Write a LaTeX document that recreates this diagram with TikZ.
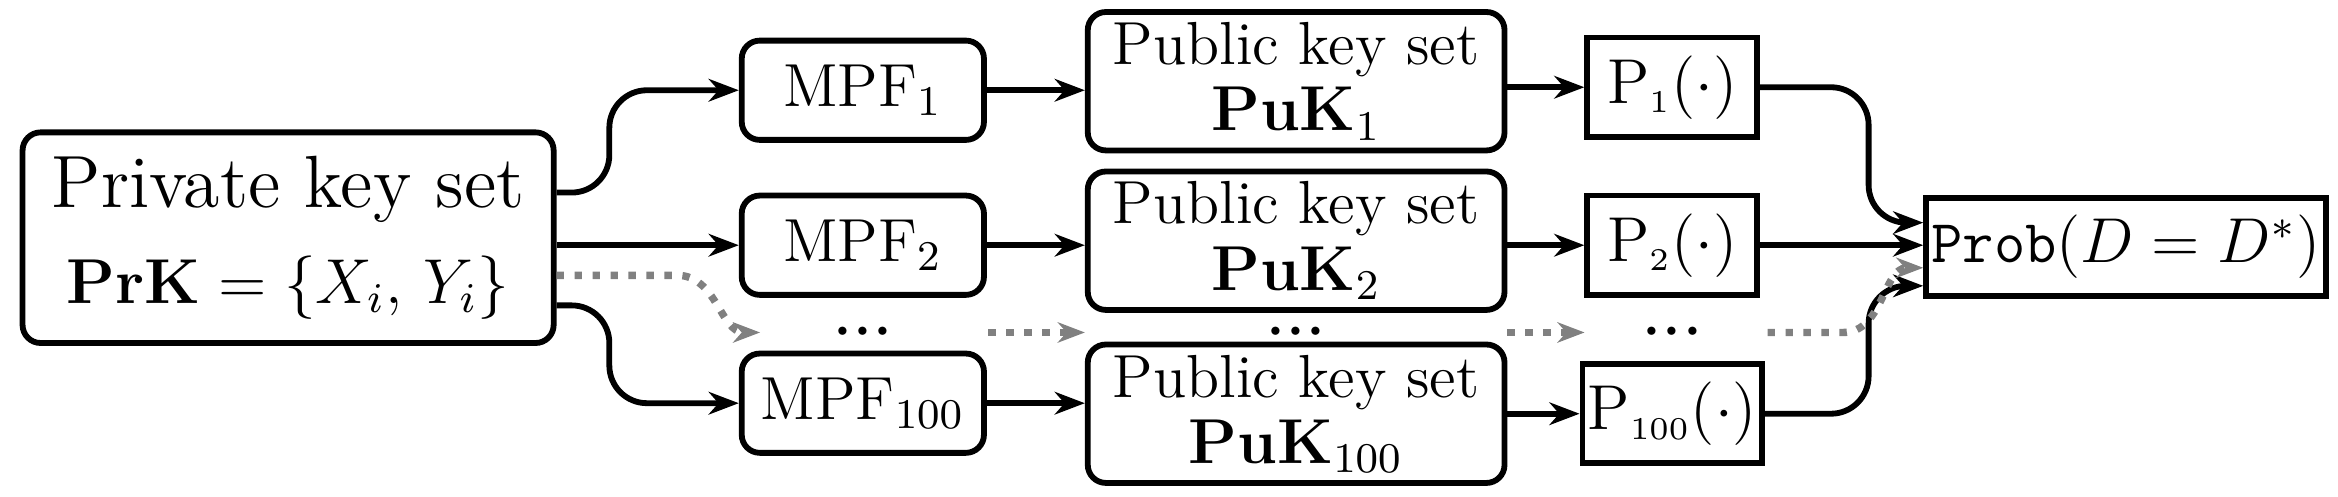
\documentclass[tikz,border=0pt]{standalone}
\usepackage{amsmath}
\usetikzlibrary{arrows.meta}

\begin{document}
\begin{tikzpicture}[
    box/.style={draw, line width=1.1pt, rounded corners=1.2mm, align=center, inner sep=0pt},
    pbox/.style={draw, line width=1.1pt, inner sep=1pt},
    link/.style={-{Stealth[length=2mm]}, line width=1.1pt, rounded corners=2.5mm},
    dots/.style={-{Stealth[length=1.8mm]}, gray, dotted, line width=1.4pt},
    txt/.style={font=\fontsize{11.5}{12.5}\selectfont}]
    \useasboundingbox (0, 0) rectangle (15.54, 3.30);

    \node [box, minimum width=3.53cm, minimum height=1.40cm] (prk) at (1.915, 1.72)
        {\fontsize{14}{16}\selectfont Private key set\\[6pt] \fontsize{12}{14}\selectfont $\mathbf{PrK} = \{X_i,\, Y_i\}$};

    \node [box, txt, minimum width=1.61cm, minimum height=0.66cm] (m1) at (5.735, 2.70) {MPF$_1$};
    \node [box, txt, minimum width=1.61cm, minimum height=0.66cm] (m2) at (5.735, 1.67) {MPF$_2$};
    \node [box, txt, minimum width=1.61cm, minimum height=0.66cm] (m3) at (5.735, 0.62) {MPF$_{100}$};

    \node [box, txt, minimum width=2.77cm, minimum height=0.92cm] (u1) at (8.615, 2.76) {Public key set\\ $\mathbf{PuK}_1$};
    \node [box, txt, minimum width=2.77cm, minimum height=0.92cm] (u2) at (8.615, 1.70) {Public key set\\ $\mathbf{PuK}_2$};
    \node [box, txt, minimum width=2.77cm, minimum height=0.92cm] (u3) at (8.615, 0.55) {Public key set\\ $\mathbf{PuK}_{100}$};

    \node [pbox, txt, minimum width=1.13cm, minimum height=0.66cm] (p1) at (11.115, 2.72) {$\mathrm{P}_{\scriptscriptstyle 1}(\cdot)$};
    \node [pbox, txt, minimum width=1.13cm, minimum height=0.66cm] (p2) at (11.115, 1.67) {$\mathrm{P}_{\scriptscriptstyle 2}(\cdot)$};
    \node [pbox, txt, minimum width=1.13cm, minimum height=0.66cm] (p3) at (11.115, 0.55) {$\mathrm{P}_{\scriptscriptstyle 100}(\cdot)$};

    \node [pbox, txt, minimum width=2.5cm, minimum height=0.65cm] (prob) at (14.13, 1.66) {\texttt{Prob}$(D = D^*)$};

    \node [inner sep=1pt] (d1) at (5.735, 1.09) {$\boldsymbol{\cdot\!\cdot\!\cdot}$};
    \node [inner sep=1pt] (d2) at (8.615, 1.09) {$\boldsymbol{\cdot\!\cdot\!\cdot}$};
    \node [inner sep=1pt] (d3) at (11.115, 1.09) {$\boldsymbol{\cdot\!\cdot\!\cdot}$};

    \draw [link] (prk.east |- 0, 2.02) -- (4.05, 2.02) |- (m1);
    \draw [link] (prk.east |- m2) -- (m2);
    \draw [link] (prk.east |- 0, 1.27) -- (4.05, 1.27) |- (m3);
    \draw [dots] (prk.east |- 0, 1.47) -- (4.5, 1.47) to [out=0, in=180] ([xshift=-0.45cm] d1.west);

    \draw [link] (m1) -- (u1.west |- m1);
    \draw [link] (m2) -- (u2.west |- m2);
    \draw [link] (m3) -- (u3.west |- m3);
    \draw [dots] ([xshift=0.6cm] d1.east) -- (u2.west |- d1);
    \draw [dots] (u2.east |- d2) -- ([xshift=-0.35cm] d3.west);

    \draw [link] (u1.east |- p1) -- (p1);
    \draw [link] (u2.east |- p2) -- (p2);
    \draw [link] (u3.east |- p3) -- (p3);

    \draw [link] (p1) -- (12.42, 2.72) |- (prob.west |- 0, 1.82);
    \draw [link] (p2) -- (prob.west |- p2);
    \draw [link] (p3) -- (12.42, 0.55) |- (prob.west |- 0, 1.40);
    \draw [dots] ([xshift=0.4cm] d3.east) -- (12.25, 1.09) to [out=0, in=180] (prob.west |- 0, 1.52);
  \end{tikzpicture}
\end{document}
